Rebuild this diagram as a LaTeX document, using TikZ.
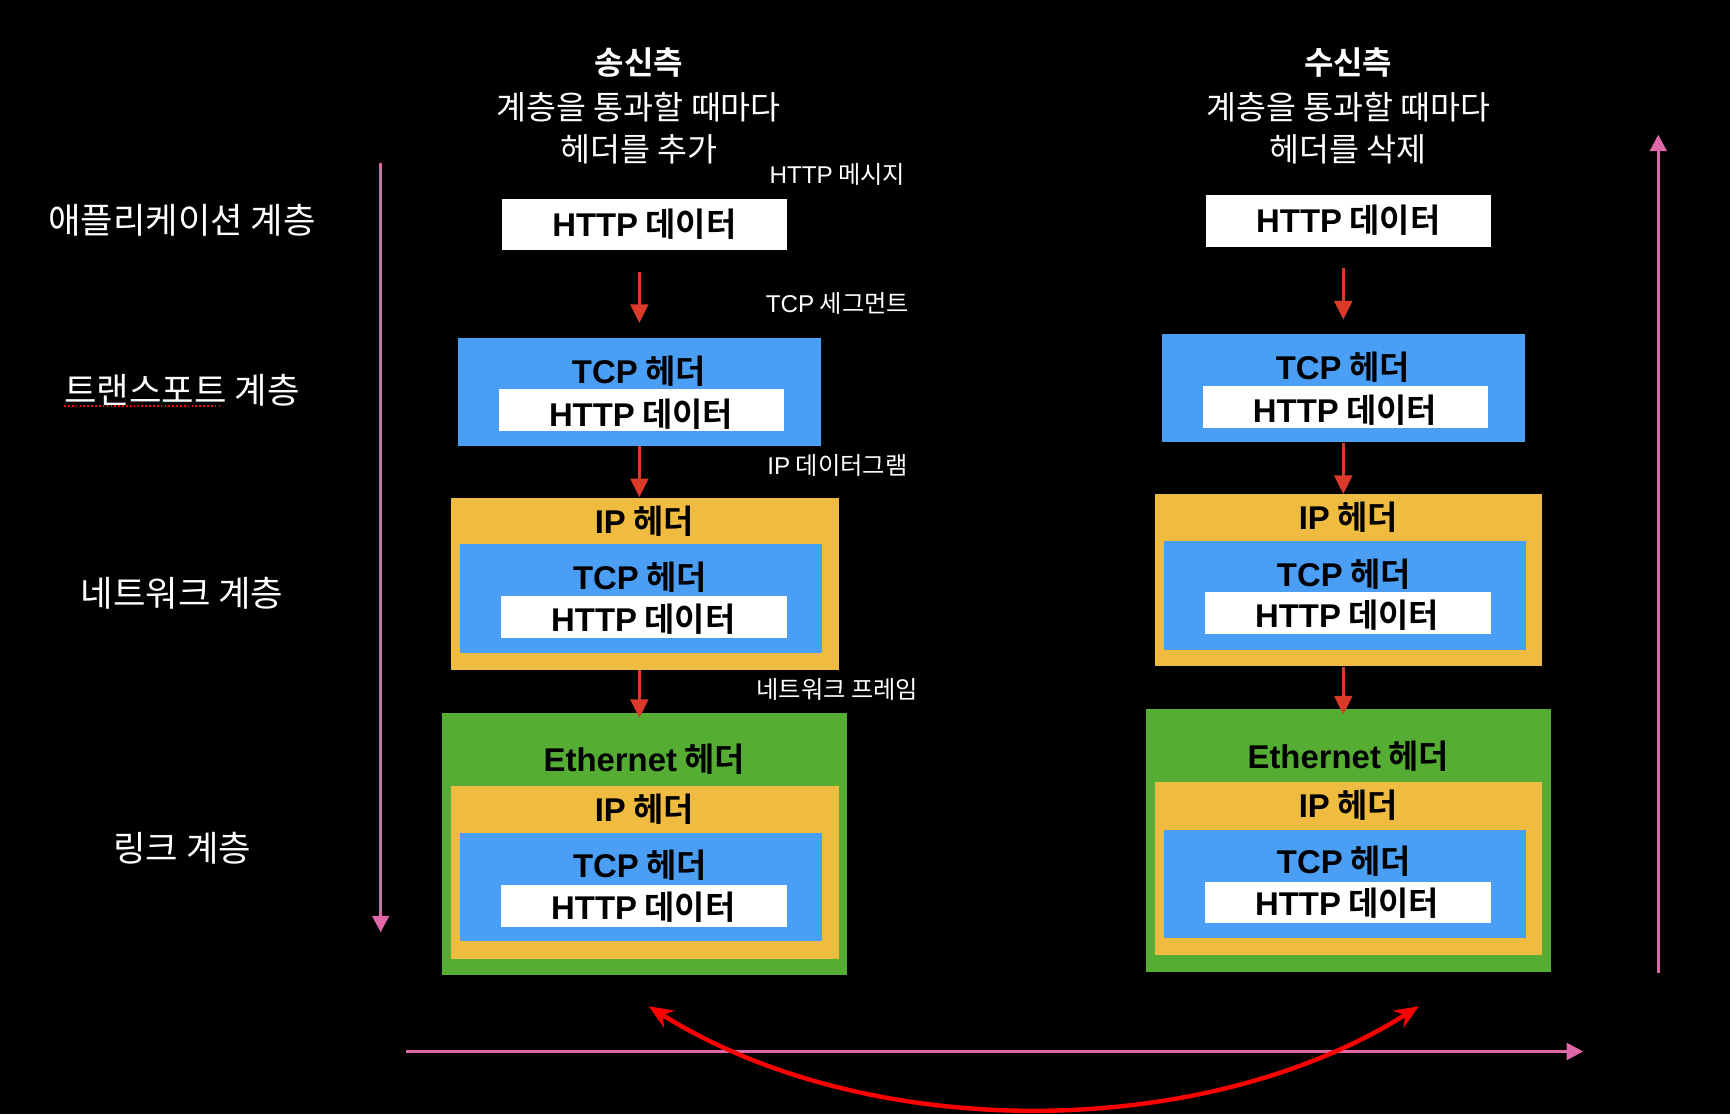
\documentclass[tikz,border=0pt]{standalone}
\usepackage{fontspec}
\setmainfont{Noto Sans CJK KR}[BoldFont={Noto Sans CJK KR Bold}]
\newfontfamily\lat{Liberation Sans}
\usetikzlibrary{arrows.meta,calc}
\definecolor{bxblue}{HTML}{4A9FF5}
\definecolor{bxyellow}{HTML}{EFBB40}
\definecolor{bxgreen}{HTML}{55AD33}
\definecolor{pinkc}{HTML}{DE67A8}
\definecolor{redc}{HTML}{DB3A2A}
\definecolor{curvec}{HTML}{FF0000}
\newcommand\bt[2]{{\lat #1} #2}
\tikzset{
  pkt/.style={draw=none, inner sep=0pt},
  btext/.style={inner sep=0pt, text=black, font=\fontsize{29.8}{30}\selectfont\bfseries},
  smalllbl/.style={inner sep=0pt, text=white, font=\fontsize{22}{22}\selectfont},
  layerlbl/.style={inner sep=0pt, text=white, font=\fontsize{32}{32}\selectfont},
  titlelbl/.style={inner sep=0pt, text=white, font=\fontsize{29.5}{30}\selectfont},
  redarr/.style={draw=redc, line width=3pt, -{Triangle[length=17pt,width=16pt]}},
  pinkarr/.style={draw=pinkc, line width=3pt, -{Triangle[length=15pt,width=15pt]}},
  curvearr/.style={draw=curvec, line width=4pt, {Stealth[length=22pt,width=18pt]}-{Stealth[length=22pt,width=18pt]}}
}
\newcommand\drawstack[3]{%
\begin{scope}[shift={(#2,#3)}]
  % application
  \node[pkt, fill=white, minimum width=258pt, minimum height=47pt] (#1a) at (584,203.5) {};
  \node[btext] (#1at) at (584,203) {\bt{HTTP}{데이터}};
  % transport
  \node[pkt, fill=bxblue, minimum width=329pt, minimum height=98pt] (#1b) at (579.5,355) {};
  \node[btext] (#1bt) at (579,336) {\bt{TCP}{헤더}};
  \node[pkt, fill=white, minimum width=259pt, minimum height=38pt] (#1bw) at (581.5,372) {};
  \node[btext] (#1bwt) at (581,375) {\bt{HTTP}{데이터}};
  % network
  \node[pkt, fill=bxyellow, minimum width=351pt, minimum height=156pt] (#1c) at (584.5,529) {};
  \node[btext] (#1ct) at (584,472) {\bt{IP}{헤더}};
  \node[pkt, fill=bxblue, minimum width=328pt, minimum height=99pt] (#1cb) at (581,542.5) {};
  \node[btext] (#1cbt) at (580,523) {\bt{TCP}{헤더}};
  \node[pkt, fill=white, minimum width=259pt, minimum height=38pt] (#1cw) at (583.5,559) {};
  \node[btext] (#1cwt) at (583,561) {\bt{HTTP}{데이터}};
  % link
  \node[pkt, fill=bxgreen, minimum width=367pt, minimum height=238pt] (#1d) at (584.5,765) {};
  \node[btext] (#1dt) at (584,688) {\bt{Ethernet}{헤더}};
  \node[pkt, fill=bxyellow, minimum width=351pt, minimum height=157pt] (#1dy) at (584.5,790.5) {};
  \node[btext] (#1dyt) at (584,733) {\bt{IP}{헤더}};
  \node[pkt, fill=bxblue, minimum width=328pt, minimum height=98pt] (#1db) at (581,804) {};
  \node[btext] (#1dbt) at (580,784) {\bt{TCP}{헤더}};
  \node[pkt, fill=white, minimum width=259pt, minimum height=38pt] (#1dw) at (583.5,821) {};
  \node[btext] (#1dwt) at (583,822) {\bt{HTTP}{데이터}};
  % arrows
  \draw[redarr, shorten <=19pt, shorten >=13pt] (#1a.south -| #1b.north) -- (#1b.north);
  \draw[redarr] (#1b.south) -- (#1b.south |- #1c.north);
  \draw[redarr, shorten >=-5pt] (#1b.south |- #1c.south) -- (#1b.south |- #1d.north);
\end{scope}}
\begin{document}
\begin{tikzpicture}[x=1pt, y=-1pt]
  \fill[black] (0,0) rectangle (1568,1010);
  \useasboundingbox (0,0) rectangle (1568,1010);

  % titles
  \node[titlelbl, font=\fontsize{29}{30}\selectfont\bfseries] (t1) at (579,57) {송신측};
  \node[titlelbl] (t2) at (579,97) {계층을 통과할 때마다};
  \node[titlelbl] (t3) at (579,135) {헤더를 추가};
  \node[titlelbl, font=\fontsize{29}{30}\selectfont\bfseries] (r1) at (1222,57) {수신측};
  \node[titlelbl] (r2) at (1222,97) {계층을 통과할 때마다};
  \node[titlelbl] (r3) at (1222,135) {헤더를 삭제};

  % layer labels
  \node[layerlbl] (l1) at (165,200) {애플리케이션 계층};
  \node[layerlbl] (l2) at (165,354) {트랜스포트 계층};
  \node[layerlbl] (l3) at (165,538) {네트워크 계층};
  \node[layerlbl] (l4) at (165,769) {링크 계층};
  \draw[red, line width=1.5pt, dotted] ($(l2.south west)+(0,-1)$) -- ($(l2.south west)+(143,-1)$);

  % stacks
  \drawstack{s}{0}{0}
  \drawstack{r}{638}{-3}

  % small labels
  \node[smalllbl] (m1) at (759,158) {\bt{HTTP}{메시지}};
  \node[smalllbl] (m2) at (759,275) {\bt{TCP}{세그먼트}};
  \node[smalllbl] (m3) at (759,422) {\bt{IP}{데이터그램}};
  \node[smalllbl] (m4) at (759,625) {네트워크 프레임};

  % pink arrows
  \coordinate (pl1) at (345,148);
  \coordinate (pl2) at (345,845);
  \coordinate (pr1) at (1503,882);
  \coordinate (pr2) at (1503,122);
  \coordinate (ph1) at (368,953);
  \coordinate (ph2) at (1435,953);
  \draw[pinkarr] (pl1) -- (pl2);
  \draw[pinkarr] (pr1) -- (pr2);
  \draw[pinkarr] (ph1) -- (ph2);

  % red curve
  \coordinate (ca) at (588,912);
  \coordinate (cb) at (1286,912);
  \draw[curvearr] (ca) .. controls (785,1036) and (1089,1036) .. (cb);
\end{tikzpicture}
\end{document}
